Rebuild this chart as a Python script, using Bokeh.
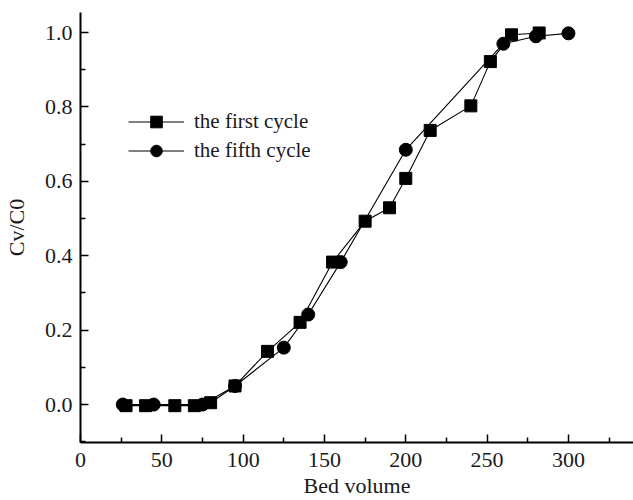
from bokeh.plotting import figure
from bokeh.models import FixedTicker, PrintfTickFormatter, Range1d, Legend, LegendItem
from bokeh.embed import file_html
from bokeh.resources import INLINE

# First cycle (squares)
first_x = [28, 40, 58, 70, 80, 95, 115, 135, 155, 175, 190, 200, 215, 240, 252, 265, 282]
first_y = [-0.003, -0.003, -0.003, -0.003, 0.005, 0.05, 0.143, 0.221, 0.383, 0.493, 0.529, 0.608, 0.737, 0.803, 0.922, 0.994, 0.999]

# Fifth cycle (circles)
fifth_x = [26, 45, 75, 95, 125, 140, 160, 200, 260, 280, 300]
fifth_y = [0.0, 0.0, 0.0, 0.05, 0.153, 0.242, 0.383, 0.685, 0.97, 0.99, 0.998]

x_ticks = [0, 50, 100, 150, 200, 250, 300]
x_minor = [25, 75, 125, 175, 225, 275, 325]
y_ticks = [0.0, 0.2, 0.4, 0.6, 0.8, 1.0]
y_minor = [-0.1, 0.1, 0.3, 0.5, 0.7, 0.9]

FONT = "Liberation Serif"

p = figure(width=633, height=500, output_backend="svg", toolbar_location=None,
           x_range=Range1d(0, 340), y_range=Range1d(-0.102, 1.054),
           min_border_left=80, min_border_right=0, min_border_top=12, min_border_bottom=58)
p.outline_line_color = None
p.grid.visible = False
p.background_fill_color = "white"
p.border_fill_color = "white"

l1 = p.line(first_x, first_y, line_color="black", line_width=1.1)
s1 = p.scatter(first_x, first_y, marker="square", size=12, fill_color="black", line_color="black")
l2 = p.line(fifth_x, fifth_y, line_color="black", line_width=1.1)
s2 = p.scatter(fifth_x, fifth_y, marker="circle", size=13, fill_color="black", line_color="black")

for ax, ticks, minor in ((p.xaxis[0], x_ticks, x_minor), (p.yaxis[0], y_ticks, y_minor)):
    ax.ticker = FixedTicker(ticks=ticks, minor_ticks=minor)
    ax.axis_line_width = 2
    ax.axis_line_color = "black"
    ax.major_tick_in = 8
    ax.major_tick_out = 0
    ax.minor_tick_in = 5
    ax.minor_tick_out = 0
    ax.major_tick_line_width = 1.5
    ax.minor_tick_line_width = 1.5
    ax.major_label_text_font = FONT
    ax.major_label_text_font_size = "22px"
    ax.major_label_text_color = "#1a1a1a"
    ax.axis_label_text_font = FONT
    ax.axis_label_text_font_size = "22px"
    ax.axis_label_text_font_style = "normal"
    ax.axis_label_text_color = "#1a1a1a"

p.yaxis[0].formatter = PrintfTickFormatter(format="%.1f")
p.xaxis[0].axis_label = "Bed volume"
p.yaxis[0].axis_label = "Cv/C0"
p.xaxis[0].major_label_standoff = 10
p.xaxis[0].axis_label_standoff = 3
p.yaxis[0].major_label_standoff = 8
p.yaxis[0].axis_label_standoff = 13

legend = Legend(items=[LegendItem(label="the first cycle", renderers=[l1, s1]),
                       LegendItem(label="the fifth cycle", renderers=[l2, s2])],
                location=(48, 277))
legend.border_line_color = None
legend.background_fill_alpha = 0
legend.padding = 0
legend.margin = 0
legend.spacing = 0
legend.glyph_width = 56
legend.glyph_height = 29
legend.label_height = 29
legend.label_standoff = 10
legend.label_text_font = FONT
legend.label_text_font_size = "21px"
legend.label_text_color = "#1a1a1a"
p.add_layout(legend, "center")

open("out.html", "w").write(file_html(p, INLINE))
